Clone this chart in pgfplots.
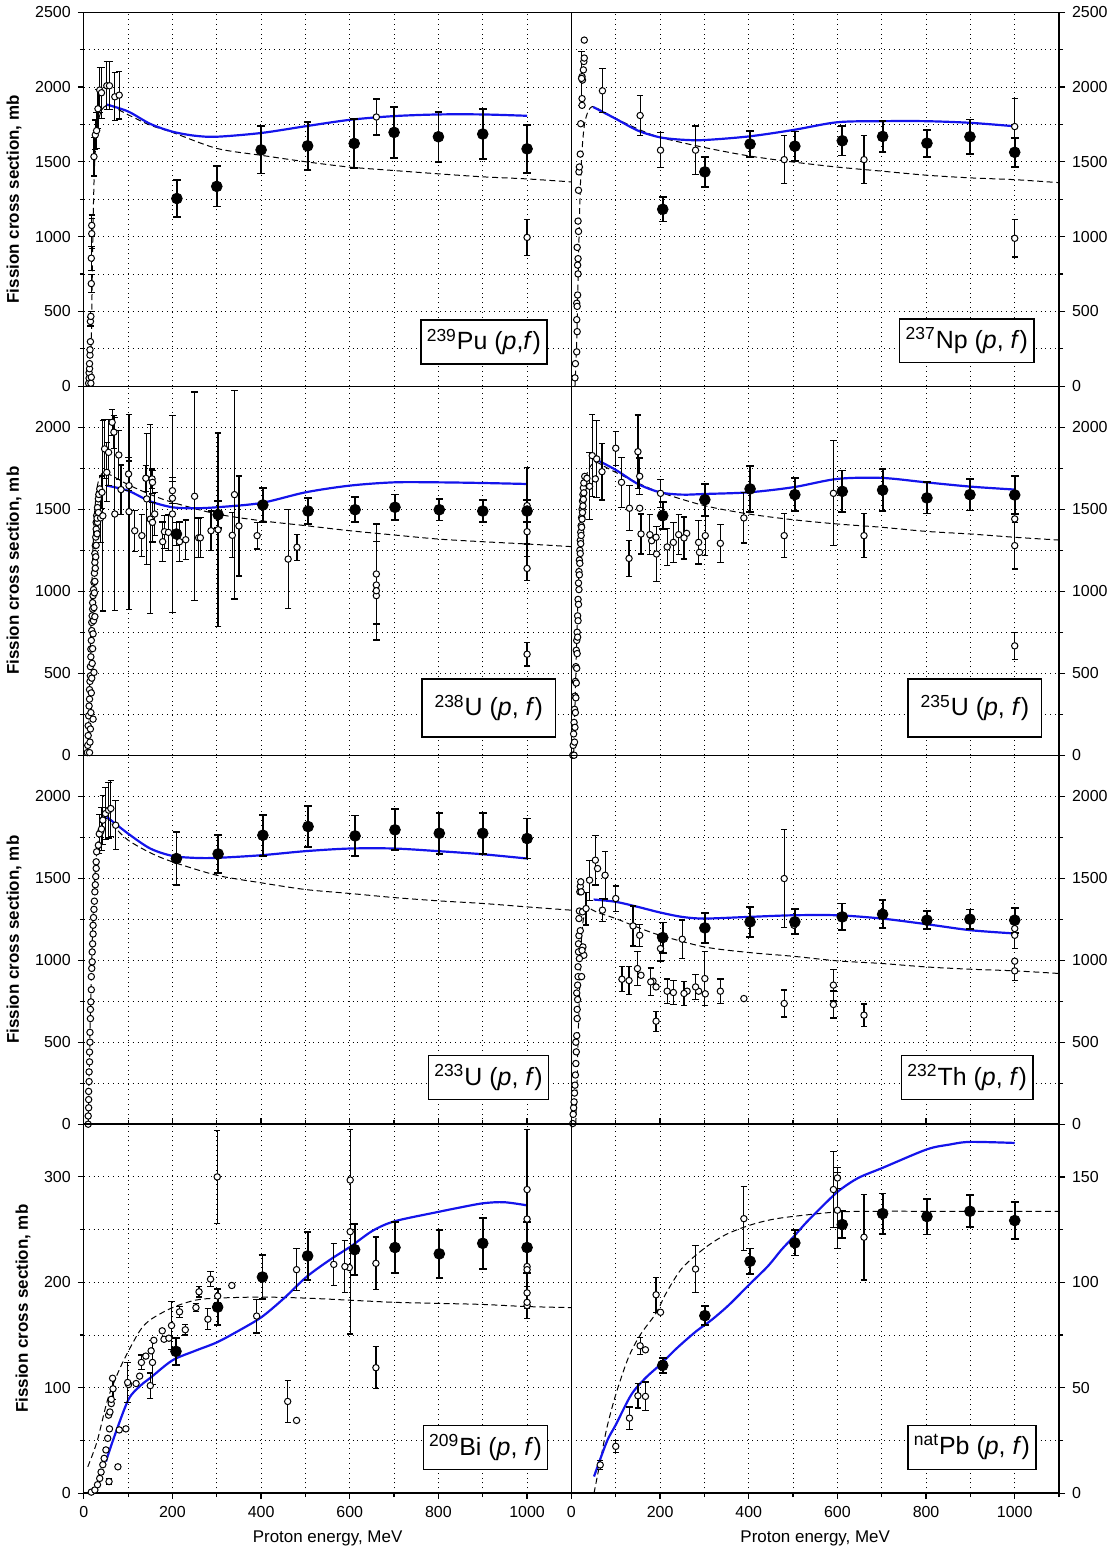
\documentclass[border=0pt]{standalone}
\usepackage{fontspec}
\setmainfont{Liberation Sans}
\usepackage{pgfplots}
\pgfplotsset{compat=1.18}
\usepgfplotslibrary{groupplots}

\definecolor{calcblue}{RGB}{20,20,235}

\tikzset{
  lbl/.style={draw=black, line width=0.7pt, fill=white, anchor=south east,
    inner xsep=3pt, minimum height=22pt, font=\fontsize{12.5}{14}\selectfont},
}
\pgfplotsset{
  expfill/.style={only marks, mark=*, mark size=2.7pt,
    mark options={draw=black, fill=black},
    error bars/.cd, y dir=both, y explicit,
    error bar style={black, line width=0.9pt},
    error mark options={rotate=90, black, mark size=1.9pt, line width=0.9pt}},
  expopen/.style={only marks, mark=*, mark size=1.6pt,
    mark options={draw=black, fill=white, line width=0.5pt},
    error bars/.cd, y dir=both, y explicit,
    error bar style={black, line width=0.6pt},
    error mark options={rotate=90, black, mark size=1.6pt, line width=0.6pt}},
  expdot/.style={only marks, mark=*, mark size=1.6pt,
    mark options={draw=black, fill=white, line width=0.5pt}},
  calc/.style={calcblue, line width=1.1pt, smooth, no marks},
  sys/.style={black, line width=0.5pt, dash pattern=on 3pt off 1.8pt, smooth, no marks},
  upper/.style={xticklabels={}, xtick style={draw=none}},
  leftcol/.style={ytick pos=left, ylabel={Fission cross section, mb}},
  rightcol/.style={ytick pos=right, yticklabel pos=right},
  bigrange/.style={ymin=0, ymax=2250, ytick={0,500,...,2000}, minor ytick={250,750,...,2250}},
}

\begin{document}
\begin{tikzpicture}
\begin{groupplot}[
  group style={group size=2 by 4, horizontal sep=0pt, vertical sep=0pt},
  scale only axis, width=244.5pt, height=185pt,
  xmin=0, xmax=1100,
  xtick={0,200,...,1000}, minor xtick={100,300,...,1100},
  grid=both,
  major grid style={black, line width=0.45pt, dotted},
  minor grid style={black, line width=0.45pt, dotted},
  axis line style={line width=0.7pt},
  tick align=outside,
  major tick length=3pt, minor tick length=2pt,
  tick style={black, line width=0.6pt},
  tick label style={font=\fontsize{8}{9}\selectfont},
  ylabel style={font=\bfseries\fontsize{8.5}{10}\selectfont},
  xlabel style={font=\fontsize{8.5}{10}\selectfont},
  /pgf/number format/assume math mode=true,
  /pgf/number format/1000 sep={},
]

% ---------------- 239Pu
\nextgroupplot[upper, leftcol, height=187.5pt, ymin=0, ymax=2500,
  ytick={0,500,...,2500}, minor ytick={250,750,...,2250}]
\addplot[sys] coordinates {(15,0) (17,300) (19,700) (21,1100) (24,1450) (28,1650) (35,1800) (45,1865) (58,1880) (75,1855) (100,1815) (150,1745) (200,1697) (300,1590) (400,1544) (500,1501) (600,1465) (700,1442) (800,1420) (900,1400) (1000,1386) (1100,1366)};
\addplot[calc] coordinates {(52,1883) (100,1837) (150,1754) (200,1702) (250,1675) (300,1668) (400,1693) (500,1738) (600,1781) (700,1806) (800,1817) (900,1817) (1000,1808)};
\addplot[expdot] coordinates {(11,20) (12,54) (12,90) (13,117) (13,151) (14,208) (14,244) (15,298) (16,20) (17,60)};
\addplot[expopen] coordinates {
  (15,433) +- (0,30) (16,467) +- (0,30) (17,686) +- (0,60) (17,856) +- (0,80)
  (18,1020) +- (0,100) (18,1075) +- (0,70) (23,1535) +- (0,130) (26,1680) +- (0,100)
  (29,1709) +- (0,120) (32,1855) +- (0,130) (36,1980) +- (0,150) (40,1962) +- (0,170)
  (52,2009) +- (0,160) (58,2009) +- (0,160) (70,1935) +- (0,160) (80,1946) +- (0,160)
  (660,1800) +- (0,120) (1000,995) +- (0,120)};
\addplot[expfill] coordinates {
  (210,1255) +- (0,126) (300,1336) +- (0,135) (400,1580) +- (0,158) (505,1607) +- (0,161)
  (610,1623) +- (0,165) (700,1697) +- (0,170) (800,1668) +- (0,167) (900,1686) +- (0,169)
  (1000,1587) +- (0,159)};
\node[lbl] at (rel axis cs:0.951,0.058) {\textsuperscript{239}Pu (\textit{p},\textit{f})};

% ---------------- 237Np
\nextgroupplot[upper, rightcol, height=187.5pt, ymin=0, ymax=2500,
  ytick={0,500,...,2500}, minor ytick={250,750,...,2250}]
\addplot[sys] coordinates {(8,0) (12,300) (15,700) (18,1100) (21,1400) (25,1620) (30,1760) (38,1840) (47,1870) (60,1855) (100,1790) (150,1720) (200,1664) (300,1596) (400,1540) (500,1499) (600,1465) (700,1438) (800,1411) (900,1393) (1000,1381) (1100,1361)};
\addplot[calc] coordinates {(49,1867) (100,1788) (150,1709) (200,1664) (250,1648) (300,1646) (400,1670) (500,1713) (600,1765) (700,1772) (800,1772) (900,1761) (1000,1738)};
\addplot[expdot] coordinates {(8,56) (9,151) (12,230) (13,365) (12,445) (12,555) (13,534) (14,610) (15,751) (14,810) (15,853) (13,928) (16,1035) (15,1104) (16,1310) (17,1433) (18,1466) (20,1552) (21,1755) (24,1878) (24,1923) (25,2047) (27,2115) (28,2171) (29,2194) (29,2314) (24,2070)};
\addplot[expopen] coordinates {
  (23,2058) +- (0,180) (70,1975) +- (0,147) (155,1810) +- (0,135) (201,1578) +- (0,118)
  (280,1578) +- (0,162) (480,1515) +- (0,160) (660,1515) +- (0,160)
  (1000,1736) +- (0,190) (1000,989) +- (0,125)};
\addplot[expfill] coordinates {
  (206,1183) +- (0,82) (301,1433) +- (0,100) (403,1619) +- (0,88) (504,1605) +- (0,98)
  (611,1641) +- (0,98) (702,1670) +- (0,103) (802,1625) +- (0,90) (899,1668) +- (0,115)
  (1000,1564) +- (0,98)};
\node[lbl] at (rel axis cs:0.95,0.061) {\textsuperscript{237}Np (\textit{p}, \textit{f})};

% ---------------- 238U
\nextgroupplot[upper, leftcol, bigrange]
\addplot[sys] coordinates {(10,0) (13,400) (16,800) (20,1200) (25,1500) (32,1660) (42,1720) (55,1715) (70,1695) (100,1650) (150,1590) (200,1542) (300,1471) (400,1430) (500,1400) (600,1369) (700,1343) (800,1318) (900,1302) (1000,1288) (1100,1272)};
\addplot[calc] coordinates {(52,1644) (100,1613) (150,1548) (200,1512) (250,1506) (300,1512) (400,1538) (500,1603) (600,1644) (700,1664) (800,1664) (900,1660) (1000,1654)};
\addplot[expdot] coordinates {
  (8,16) (9,60) (10,120) (10,180) (11,240) (12,300) (13,342) (13,400) (14,450) (15,484)
  (15,540) (16,600) (16,647) (17,700) (18,760) (18,810) (19,850) (20,891) (20,930) (21,973)
  (22,1010) (23,1054) (24,1110) (25,1176) (25,1230) (26,1278) (27,1330) (28,1379) (28,1420)
  (29,1461) (31,1510) (33,1563) (34,1590) (36,1624)
  (13,16) (14,80) (15,160) (16,260) (17,380) (18,470) (19,560) (20,650) (21,740) (22,820)
  (23,900) (24,990) (25,1060) (26,1140) (27,1210) (28,1280) (30,1350) (31,1420) (33,1480)
  (21,220) (23,505) (25,845) (30,1445) (660,1038) (660,973)};
\addplot[expopen] coordinates {
  (38,1447) +- (0,150) (41,1603) +- (0,100) (43,1460) +- (0,580) (47,1868) +- (0,180)
  (52,1725) +- (0,180) (56,1847) +- (0,200) (64,2030) +- (0,80) (68,1970) +- (0,100)
  (70,1471) +- (0,590) (79,1831) +- (0,150) (84,1620) +- (0,150) (101,1715) +- (0,100)
  (102,1644) +- (0,150) (102,1485) +- (0,595) (115,1369) +- (0,125) (131,1339) +- (0,127)
  (140,1689) +- (0,80) (142,1563) +- (0,400) (150,1440) +- (0,577) (154,1685) +- (0,60)
  (155,1664) +- (0,70) (155,1420) +- (0,120) (160,1471) +- (0,130) (178,1302) +- (0,120)
  (182,1363) +- (0,100) (191,1359) +- (0,110) (200,1613) +- (0,80) (200,1567) +- (0,100)
  (200,1471) +- (0,600) (216,1302) +- (0,120) (230,1314) +- (0,120) (250,1579) +- (0,636)
  (259,1326) +- (0,120) (263,1326) +- (0,122) (287,1369) +- (0,120) (303,1375) +- (0,590)
  (335,1341) +- (0,137) (340,1589) +- (0,636) (350,1398) +- (0,305) (391,1339) +- (0,82)
  (461,1196) +- (0,303) (481,1268) +- (0,80) (660,1105) +- (0,305) (660,1003) +- (0,300)
  (1000,1522) +- (0,234) (1000,1363) +- (0,150) (1000,1139) +- (0,75) (1000,616) +- (0,72)};
\addplot[expfill] coordinates {
  (209,1349) +- (0,70) (303,1467) +- (0,82) (404,1526) +- (0,102) (506,1489) +- (0,79)
  (612,1497) +- (0,77) (702,1512) +- (0,78) (802,1497) +- (0,66) (900,1489) +- (0,66)
  (1000,1489) +- (0,66)};
\node[lbl, minimum height=29pt, minimum width=67pt] at (rel axis cs:0.969,0.048) {\textsuperscript{238}U (\textit{p}, \textit{f})};

% ---------------- 235U
\nextgroupplot[upper, rightcol, bigrange]
\addplot[sys] coordinates {(5,0) (9,400) (13,800) (17,1150) (21,1400) (26,1580) (33,1700) (45,1770) (57,1786) (75,1760) (100,1725) (150,1660) (200,1603) (300,1522) (400,1471) (500,1436) (600,1410) (700,1390) (800,1365) (900,1349) (1000,1329) (1100,1312)};
\addplot[calc] coordinates {(53,1807) (100,1740) (150,1654) (200,1603) (250,1589) (300,1593) (400,1603) (500,1634) (600,1685) (700,1691) (800,1664) (900,1638) (1000,1620)};
\addplot[expdot] coordinates {
  (3,0) (4,60) (5,130) (6,200) (7,280) (8,360) (9,450) (10,540) (11,640) (12,700) (13,750)
  (14,850) (15,950) (16,1050) (17,1120) (18,1190) (19,1250) (20,1310) (21,1360) (22,1400)
  (23,1450) (24,1500) (25,1550) (26,1590) (27,1630) (28,1660) (30,1700)
  (6,0) (7,80) (8,170) (9,260) (10,350) (11,440) (12,530) (13,620) (14,720) (15,820)
  (16,920) (17,1010) (18,1100) (19,1170) (20,1230) (21,1290) (22,1340) (23,1390)
  (24,1440) (25,1480) (26,1520) (27,1560) (28,1600)
  (35,1689) (54,1685) (154,1506) (181,1308) (191,1329) (260,1353) (289,1237) (1000,1441)};
\addplot[expopen] coordinates {
  (41,1640) +- (0,204) (47,1827) +- (0,250) (57,1807) +- (0,234) (69,1729) +- (0,173)
  (100,1872) +- (0,104) (113,1664) +- (0,153) (130,1200) +- (0,109) (131,1506) +- (0,138)
  (150,1851) +- (0,224) (154,1701) +- (0,112) (157,1349) +- (0,122) (177,1345) +- (0,122)
  (192,1227) +- (0,168) (201,1597) +- (0,86) (216,1270) +- (0,114) (230,1298) +- (0,122)
  (242,1345) +- (0,122) (254,1325) +- (0,128) (287,1298) +- (0,132) (302,1339) +- (0,122)
  (336,1292) +- (0,117) (389,1447) +- (0,153) (480,1339) +- (0,135) (591,1597) +- (0,320)
  (660,1339) +- (0,135) (1000,1278) +- (0,143) (1000,667) +- (0,82)};
\addplot[expfill] coordinates {
  (206,1461) +- (0,81) (301,1558) +- (0,97) (403,1624) +- (0,140) (504,1589) +- (0,102)
  (611,1609) +- (0,127) (702,1617) +- (0,130) (802,1569) +- (0,95) (899,1589) +- (0,97)
  (1000,1587) +- (0,115)};
\node[lbl, minimum height=29pt, minimum width=67pt] at (rel axis cs:0.966,0.048) {\textsuperscript{235}U (\textit{p}, \textit{f})};

% ---------------- 233U
\nextgroupplot[upper, leftcol, bigrange]
\addplot[sys] coordinates {(10,0) (13,400) (16,800) (20,1200) (25,1500) (30,1680) (40,1820) (52,1865) (70,1810) (100,1732) (150,1655) (200,1600) (300,1518) (400,1472) (500,1431) (600,1407) (700,1382) (800,1362) (900,1346) (1000,1325) (1100,1305)};
\addplot[calc] coordinates {(52,1874) (100,1772) (150,1681) (200,1636) (250,1624) (300,1624) (400,1640) (500,1665) (600,1681) (700,1681) (800,1665) (900,1646) (1000,1620)};
\addplot[expdot] coordinates {
  (10,0) (10,50) (11,100) (11,150) (11,200) (12,260) (12,319) (13,380) (13,440) (14,500)
  (14,560) (15,644) (15,700) (16,746) (17,820) (17,900) (18,950) (19,990) (19,1050)
  (20,1100) (21,1160) (21,1213) (22,1260) (23,1310) (24,1360) (25,1417) (26,1460)
  (27,1510) (28,1560) (28,1600) (29,1661) (33,1701) (38,1783)};
\addplot[expopen] coordinates {
  (35,1770) +- (0,120) (40,1800) +- (0,130) (43,1854) +- (0,150) (49,1894) +- (0,160)
  (56,1915) +- (0,170) (61,1925) +- (0,170) (72,1823) +- (0,150)};
\addplot[expfill] coordinates {
  (209,1620) +- (0,163) (303,1648) +- (0,115) (404,1762) +- (0,125) (506,1815) +- (0,125)
  (612,1758) +- (0,124) (702,1795) +- (0,125) (802,1774) +- (0,125) (900,1774) +- (0,125)
  (1000,1742) +- (0,122)};
\node[lbl] at (rel axis cs:0.955,0.065) {\textsuperscript{233}U (\textit{p}, \textit{f})};

% ---------------- 232Th
\nextgroupplot[upper, rightcol, bigrange]
\addplot[sys] coordinates {(10,0) (14,400) (18,800) (22,1100) (27,1250) (35,1310) (41,1315) (60,1290) (100,1254) (150,1200) (200,1152) (300,1081) (400,1047) (500,1024) (600,996) (700,980) (800,959) (900,945) (1000,935) (1100,919)};
\addplot[calc] coordinates {(50,1370) (100,1356) (150,1325) (200,1291) (250,1264) (300,1254) (400,1264) (500,1274) (600,1274) (700,1254) (800,1220) (900,1183) (1000,1163)};
\addplot[expdot] coordinates {
  (3,4) (4,60) (5,100) (6,136) (7,190) (8,238) (9,300) (10,370) (11,441) (12,540) (13,644)
  (13,700) (14,760) (14,848) (15,900) (15,960) (16,1051) (16,1100) (17,1150) (17,1254)
  (18,1300) (19,1417) (20,1450) (21,1478) (22,1417) (25,1295) (26,1081) (28,1030)
  (24,1060) (20,1180) (18,1010) (23,900) (12,800) (10,500)
  (59,1559) (157,908) (184,872) (191,837) (261,811) (287,811) (302,795) (389,766)
  (502,1213) (1000,994) (1000,1193)};
\addplot[expopen] coordinates {
  (33,1315) +- (0,100) (41,1488) +- (0,122) (54,1610) +- (0,152) (70,1305) +- (0,71)
  (76,1518) +- (0,145) (100,1376) +- (0,77) (114,884) +- (0,76) (130,876) +- (0,86)
  (139,1209) +- (0,122) (149,949) +- (0,102) (154,1152) +- (0,66) (179,868) +- (0,85)
  (191,628) +- (0,61) (201,1071) +- (0,76) (216,811) +- (0,74) (230,803) +- (0,73)
  (250,1128) +- (0,117) (254,797) +- (0,73) (280,837) +- (0,77) (301,888) +- (0,166)
  (336,811) +- (0,74) (480,1498) +- (0,301) (480,736) +- (0,82) (591,848) +- (0,97)
  (591,730) +- (0,82) (660,665) +- (0,68) (1000,935) +- (0,60) (1000,1152) +- (0,80)};
\addplot[expfill] coordinates {
  (206,1138) +- (0,92) (301,1197) +- (0,93) (403,1234) +- (0,92) (504,1234) +- (0,76)
  (611,1264) +- (0,82) (702,1280) +- (0,85) (802,1244) +- (0,55) (899,1250) +- (0,59)
  (1000,1244) +- (0,76)};
\node[lbl] at (rel axis cs:0.948,0.065) {\textsuperscript{232}Th (\textit{p}, \textit{f})};

% ---------------- 209Bi
\nextgroupplot[leftcol, ymin=0, ymax=350, ytick={0,100,200,300}, minor ytick={50,150,250,350},
  xlabel={Proton energy, MeV}]
\addplot[sys] coordinates {(9,25) (30,49) (54,89) (79,116) (101,135) (128,155) (152,165) (200,176) (251,183) (300,185) (401,186) (502,185) (602,183) (702,181) (802,180) (901,179) (1000,177) (1100,176)};
\addplot[calc] coordinates {(50,30) (70,55) (101,89) (128,102) (152,110) (200,126) (251,135) (300,143) (349,154) (401,167) (452,185) (502,205) (554,221) (602,234) (652,249) (702,258) (802,267) (849,271) (901,275) (948,276) (1000,273)};
\addplot[expdot] coordinates {
  (17,1) (25,3) (31,8) (36,14) (39,20) (43,27) (46,33) (50,41) (54,52) (56,74) (58,61)
  (59,77) (62,85) (62,89) (65,109) (77,25) (80,60) (95,61) (101,103) (118,104) (126,111)
  (140,130) (152,135) (158,145) (177,154) (181,146) (192,147) (480,69) (599,214)
  (601,297) (1000,288) (1000,215) (1000,212) (1000,190) (1000,178)};
\addplot[expopen] coordinates {
  (57,11) +- (0,3) (66,99) +- (0,10) (99,105) +- (0,19) (130,124) +- (0,7) (150,102) +- (0,12)
  (155,124) +- (0,21) (198,159) +- (0,23) (216,172) +- (0,5) (229,155) +- (0,5)
  (253,176) +- (0,4) (260,191) +- (0,5) (280,165) +- (0,10) (286,203) +- (0,7)
  (302,187) +- (0,6) (301,300) +- (0,44) (334,197) +- (0,2) (390,168) +- (0,16)
  (460,87) +- (0,20) (480,212) +- (0,20) (564,217) +- (0,20) (589,215) +- (0,25)
  (601,248) +- (0,97) (659,218) +- (0,25) (659,119) +- (0,20) (1000,260) +- (0,85)
  (1000,181) +- (0,15)};
\addplot[expfill] coordinates {
  (208,134.5) +- (0,13) (302,176.5) +- (0,17) (403,205) +- (0,21) (505,225) +- (0,23)
  (611,231) +- (0,24) (702,233) +- (0,24) (802,227) +- (0,23) (900,237) +- (0,24)
  (1000,233) +- (0,24)};
\node[lbl] at (rel axis cs:0.953,0.063) {\textsuperscript{209}Bi (\textit{p}, \textit{f})};

% ---------------- natPb
\nextgroupplot[rightcol, ymin=0, ymax=175, ytick={0,50,100,150}, minor ytick={25,75,125,175},
  xlabel={Proton energy, MeV}]
\addplot[sys] coordinates {(51,0) (65,15) (80,31) (100,46.7) (128,64) (155,75) (191,85.4) (214,95) (250,106.8) (301,116.3) (348,122.6) (401,127) (450,129.7) (502,131.3) (602,133.4) (702,133.7) (801,133.7) (1100,133.7)};
\addplot[calc] coordinates {(51,7.9) (80,24.5) (100,32.4) (135,46.7) (167,54.6) (200,60.9) (238,68.8) (281,76.7) (317,82.3) (356,89.4) (401,98.9) (443,107.6) (474,115.5) (502,121.8) (529,128.2) (561,135) (602,143.2) (647,149.5) (702,154.3) (801,163) (852,165.3) (899,166.6) (1000,166.1)};
\addplot[expdot] coordinates {(167,68) (201,85.8)};
\addplot[expopen] coordinates {
  (65,13.4) +- (0,2) (100,22.2) +- (0,2.8) (131,35.6) +- (0,5.3) (150,46.2) +- (0,5.8)
  (155,69.9) +- (0,4) (167,45.9) +- (0,6.8) (191,94.1) +- (0,8.3) (280,106.3) +- (0,11.1)
  (389,130.2) +- (0,15.1) (591,144) +- (0,18) (600,149.5) +- (0,5) (600,134.2) +- (0,18)
  (660,121.4) +- (0,20.3)};
\addplot[expfill] coordinates {
  (206,60.6) +- (0,3.5) (301,84.2) +- (0,4.6) (403,110) +- (0,6) (504,118.7) +- (0,6)
  (611,127.4) +- (0,6.5) (702,132.6) +- (0,9.5) (802,131.2) +- (0,8.5) (899,133.7) +- (0,7.6)
  (1000,129.3) +- (0,8.7)};
\node[lbl] at (rel axis cs:0.954,0.063) {\textsuperscript{nat}Pb (\textit{p}, \textit{f})};

\end{groupplot}
\end{tikzpicture}
\end{document}
